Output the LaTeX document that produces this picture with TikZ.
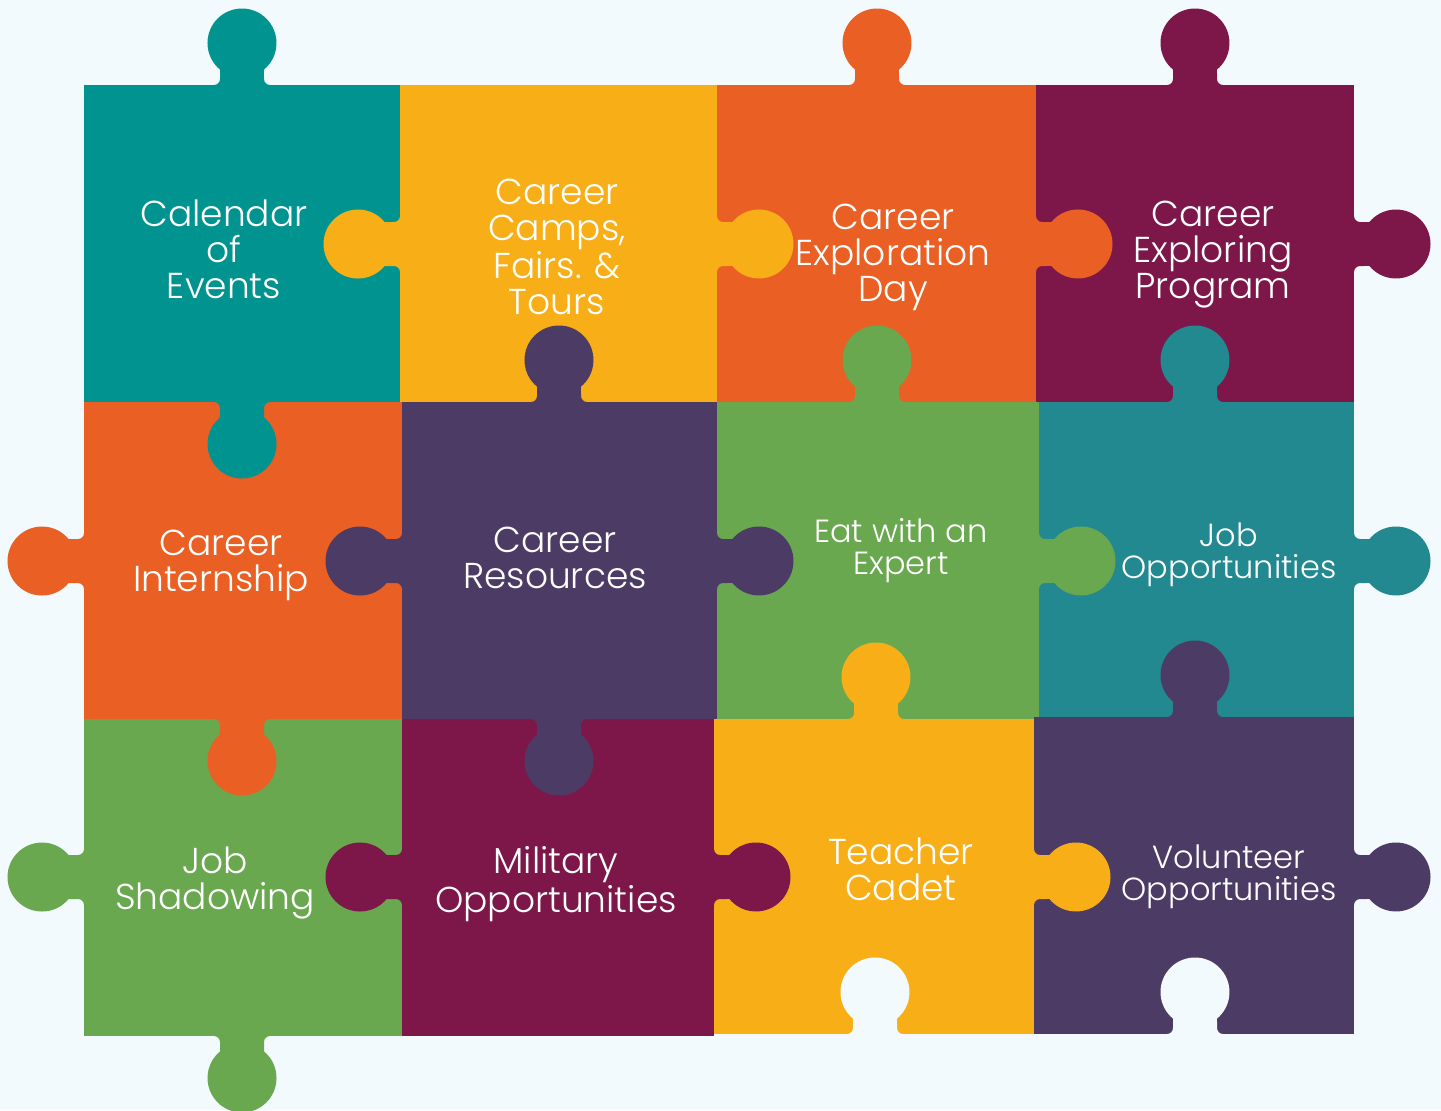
\documentclass[tikz,border=0pt]{standalone}
\usepackage{fontspec}
\setmainfont{Poppins Light}
\definecolor{bgc}{HTML}{F2FAFD}
\definecolor{pteal}{HTML}{00938F}
\definecolor{pyellow}{HTML}{F7AE17}
\definecolor{porange}{HTML}{EA5F23}
\definecolor{pmaroon}{HTML}{7D1749}
\definecolor{ppurple}{HTML}{4C3B65}
\definecolor{pgreen}{HTML}{69A84F}
\definecolor{ptealb}{HTML}{228990}
\newcommand\pzknob[4]{%
  \fill[#4, shift={(#1,#2)}, rotate=#3]
    (-2,-28) -- (0,-28) arc[start angle=180,end angle=90,radius=6]
    -- (15.42,-22) arc[start angle=-140.4,end angle=140.4,radius=34.5]
    -- (6,22) arc[start angle=270,end angle=180,radius=6]
    -- (-2,28) -- cycle;}
\tikzset{
  lbl/.style={text=white, align=center, inner sep=0pt, font=\fontsize{18}{18}\selectfont},
  lbls/.style={text=white, align=center, inner sep=0pt, font=\fontsize{16}{16}\selectfont},
}
\begin{document}
\begin{tikzpicture}[x=0.5pt, y=-0.5pt]
\fill[bgc] (0,0) rectangle (1441,1110);
\useasboundingbox (0,0) rectangle (1441,1110);
% pieces
\fill[pteal]   (84,85)   rectangle (400,402);
\fill[pyellow] (400,85)  rectangle (717,402);
\fill[porange] (717,85)  rectangle (1036,402);
\fill[pmaroon] (1036,85) rectangle (1354,402);
\fill[porange] (84,402)  rectangle (402,719);
\fill[ppurple] (402,402) rectangle (717,719);
\fill[pgreen]  (717,402) rectangle (1039,719);
\fill[ptealb]  (1039,402) rectangle (1354,717);
\fill[pgreen]  (84,719)  rectangle (402,1036);
\fill[pmaroon] (402,719) rectangle (714,1036);
\fill[pyellow] (714,719) rectangle (1034,1034);
\fill[ppurple] (1034,717) rectangle (1354,1034);
% top tabs
\pzknob{242}{85}{90}{pteal}
\pzknob{877}{85}{90}{porange}
\pzknob{1195}{85}{90}{pmaroon}
% edge y=402
\pzknob{242}{402}{-90}{pteal}
\pzknob{559}{402}{90}{ppurple}
\pzknob{877}{402}{90}{pgreen}
\pzknob{1195}{402}{90}{ptealb}
% edge y=719
\pzknob{242}{719}{-90}{porange}
\pzknob{559}{719}{-90}{ppurple}
\pzknob{876}{719}{90}{pyellow}
\pzknob{1195}{717}{90}{ppurple}
% bottom
\pzknob{242}{1036}{-90}{pgreen}
\pzknob{875}{1034}{90}{bgc}
\pzknob{1195}{1034}{90}{bgc}
% left edge
\pzknob{84}{561}{180}{porange}
\pzknob{84}{877}{180}{pgreen}
% x=400
\pzknob{400}{244}{180}{pyellow}
\pzknob{402}{561}{180}{ppurple}
\pzknob{402}{877}{180}{pmaroon}
% x=717
\pzknob{717}{244}{0}{pyellow}
\pzknob{717}{561}{0}{ppurple}
\pzknob{714}{877}{0}{pmaroon}
% x=1036
\pzknob{1036}{244}{0}{porange}
\pzknob{1039}{561}{0}{pgreen}
\pzknob{1034}{877}{0}{pyellow}
% right edge
\pzknob{1354}{244}{0}{pmaroon}
\pzknob{1354}{561}{0}{ptealb}
\pzknob{1354}{877}{0}{ppurple}
% labels
\node[lbl] (t11) at (224,249) {Calendar\\of\\Events};
\node[lbl] (t12) at (557,247) {Career\\Camps,\\Fairs. \&\\Tours};
\node[lbl] (t13) at (893,257) {Career\\Exploration\\Day};
\node[lbl] (t14) at (1213,255) {Career\\Exploring\\Program};
\node[lbl] (t21) at (221,565) {Career\\Internship};
\node[lbl] (t22) at (555,558) {Career\\Resources};
\node[lbls] (t23) at (901,551) {Eat with an\\Expert};
\node[lbls] (t24) at (1229,555) {Job\\Opportunities};
\node[lbl] (t31) at (215,883) {Job\\Shadowing};
\node[lbl] (t32) at (556,884) {Military\\Opportunities};
\node[lbl] (t33) at (901,869) {Teacher\\Cadet};
\node[lbls] (t34) at (1229,877) {Volunteer\\Opportunities};
\end{tikzpicture}
\end{document}
